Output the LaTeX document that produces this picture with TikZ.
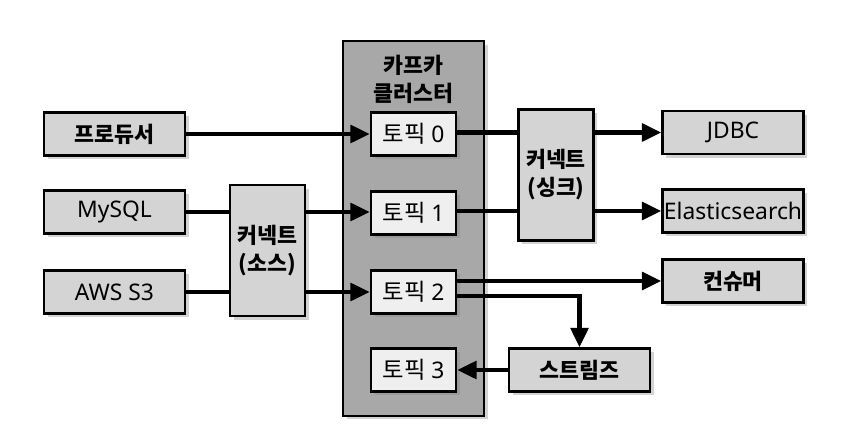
\documentclass[tikz,border=0pt]{standalone}
\usepackage{fontspec}
\setmainfont{Noto Sans}
\newfontfamily\kr[Scale=0.95]{Noto Sans CJK KR}
\usepackage{xcolor}
\usetikzlibrary{arrows.meta,shadows}
\definecolor{boxgray}{HTML}{D4D4D4}
\definecolor{clustergray}{HTML}{A8A8A8}
\definecolor{topicgray}{HTML}{EFEFEF}

\begin{document}
\begin{tikzpicture}[x=0.02cm, y=-0.02cm,
  box/.style={draw, line width=1.5pt, fill=#1, minimum width=2.82cm, minimum height=0.86cm,
              inner sep=0pt, align=center, font=\fontsize{13}{16}\selectfont,
              drop shadow={shadow xshift=2pt, shadow yshift=-2pt, opacity=0.35}},
  box/.default=boxgray,
  topic/.style={box=topicgray, minimum width=1.7cm},
  conn/.style={box, minimum width=1.5cm, minimum height=2.62cm},
  kor/.style={font=\fontsize{13}{16}\selectfont\kr\bfseries},
  wire/.style={line width=2.4pt},
  arr/.style={wire, -{Triangle[length=11pt, width=10pt]}}
]
  \useasboundingbox (0,0) rectangle (863,439);

  % Kafka cluster with its topics
  \node[box=clustergray, minimum height=7.5cm] (cluster) at (413.5,228.5) {};
  \node[kor, align=center] (ctitle) at (413.5,79) {카프카\\클러스터};
  \foreach \i/\y in {0/134,1/213,2/292,3/370}
    \node[topic] (t\i) at (413.5,\y) {{\kr\fontsize{14}{16}\selectfont 토픽} \i};

  % Sources
  \node[box, kor] (prod) at (114.5,134) {프로듀서};
  \node[box] (mysql) at (114.5,212) {MySQL};
  \node[box] (aws) at (114.5,292) {AWS S3};
  \node[conn, kor] (csrc) at (267.5,250.5) {커넥트\\(소스)};

  % Sinks
  \node[conn, kor] (csink) at (556,175) {커넥트\\(싱크)};
  \node[box] (jdbc) at (733,132.5) {JDBC};
  \node[box] (es) at (733,211) {Elasticsearch};
  \node[box, kor] (cons) at (733,281) {컨슈머};
  \node[box, kor] (strm) at (579.5,370) {스트림즈};

  % Into the cluster
  \draw[arr] (prod.east) -- (prod.east -| t0.west);
  \draw[wire] (mysql.east) -- (mysql.east -| csrc.west);
  \draw[arr] (csrc.east |- mysql) -- (t1.west |- mysql);
  \draw[wire] (aws.east) -- (aws.east -| csrc.west);
  \draw[arr] (csrc.east |- aws) -- (t2.west);

  % Out of the cluster
  \draw[wire] (t0.east |- jdbc) -- (csink.west |- jdbc);
  \draw[arr] (csink.east |- jdbc) -- (jdbc.west);
  \draw[wire] (t1.east |- es) -- (csink.west |- es);
  \draw[arr] (csink.east |- es) -- (es.west);
  \draw[arr] (t2.east |- cons) -- (cons.west);
  \draw[arr] ([yshift=-0.08cm]t2.east) -| (strm.north);
  \draw[arr] (strm.west) -- (t3.east);
\end{tikzpicture}
\end{document}
